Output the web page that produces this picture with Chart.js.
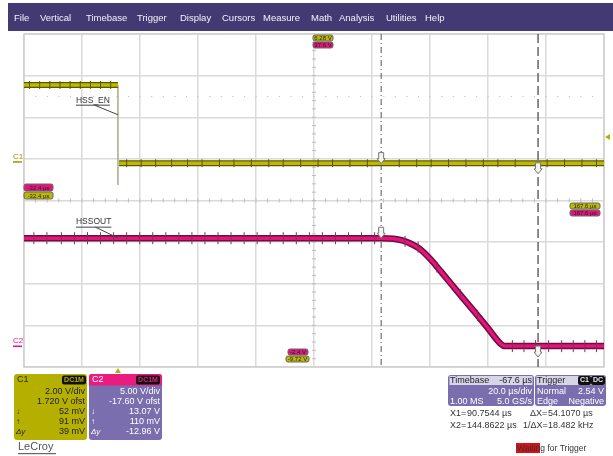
<!DOCTYPE html>
<html lang="en">
<head>
<meta charset="UTF-8" />
<title>HSS_EN / HSSOUT capture</title>
<script src="https://cdn.jsdelivr.net/npm/chart.js"></script>
<style>
  html, body { margin: 0; padding: 0; background: #fff; }
  #wrap { position: relative; width: 613px; height: 456px; }
</style>
</head>
<body>
<div id="wrap"><canvas id="scope"></canvas></div>
<script>
// ---- acquisition settings (µs / V) ----
const timeLeft = -32.4, timeRight = 167.6, usPerDiv = 20;
const c1VoltsPerDiv = 2.0, c1Offset = 1.72;
const c2VoltsPerDiv = 5.0, c2Offset = -17.6;
const cursorX1 = 90.7544, cursorX2 = 144.8622;

// ---- C1 : HSS_EN ----
const c1HighTime = [-32.4, 0.0];
const c1HighVolts = [3.83, 3.83];
const c1EdgeTime = [0.0, 0.0];
const c1EdgeVolts = [3.83, -0.98];
const c1LowTime = [0.4, 167.6];
const c1LowVolts = [0.07, 0.07];
const c1HighSpikes = [-30.5, -27, -23.5, -20, -16.5, -13, -9.5, -6, -2.5];
const c1LowSpikes = [3, 8, 13, 18.5, 24, 29, 35, 40, 46, 52, 57, 63, 69, 74, 80, 86, 97, 103, 108, 114, 120, 126, 131, 137, 148, 154, 160, 165];

// ---- C2 : HSSOUT ----
const c2Time = [-32.4, 90.8, 95.0, 98.0, 101.0, 104.0, 107.9, 111.4, 117.1, 122.9, 127.5, 131.8, 133.4, 167.6];
const c2Volts = [13.07, 13.07, 13.0, 12.8, 12.4, 11.8, 10.5, 9.05, 6.65, 4.25, 2.3, 0.45, 0.11, 0.11];
const c2HighSpikes = [-29, -24.5, -19.5, -15, -10.5, -6, -1.5, 3, 7.5, 12, 16.5, 21, 25.5, 30, 34.5, 39, 43.5, 48, 52.5, 57, 61.5, 66, 70.5, 75, 79.5, 84, 88.5];
const c2RampSpikeTime = [99, 103.5, 110, 118, 124];
const c2RampSpikeVolts = [12.7, 12.0, 9.6, 6.3, 3.8];
const c2LowSpikes = [136, 140, 144, 148.5, 153, 157, 161, 165];

const C1_COL = '#bdb800', C1_EDGE = '#5a5800';
const C2_COL = '#e2157b', C2_EDGE = '#6b0f3d';
const PANEL = '#7a6eaf';
const FONT = '"Liberation Sans", Arial, sans-serif';

const pts = (xs, ys) => xs.map((x, i) => ({ x: x, y: ys[i] }));
const flat = (xs, v) => xs.map(x => ({ x: x, y: v }));

function trace(label, data, axis, color, width, order) {
  return { label, data, yAxisID: axis, borderColor: color, borderWidth: width,
           pointRadius: 0, fill: false, order, cubicInterpolationMode: 'monotone' };
}
function spikes(label, data, axis, color, len) {
  return { type: 'scatter', label, data, yAxisID: axis, pointStyle: 'line', rotation: 90,
           pointRadius: len, borderColor: color, borderWidth: 1, showLine: false, order: 0 };
}

function rrect(ctx, x, y, w, h, r, fill, stroke) {
  ctx.beginPath();
  ctx.roundRect(x, y, w, h, r);
  if (fill) { ctx.fillStyle = fill; ctx.fill(); }
  if (stroke) { ctx.strokeStyle = stroke; ctx.lineWidth = 1; ctx.stroke(); }
}
function txt(ctx, s, x, y, size, color, align, weight) {
  ctx.font = (weight || '') + ' ' + size + 'px ' + FONT;
  ctx.fillStyle = color;
  ctx.textAlign = align || 'left';
  ctx.textBaseline = 'middle';
  ctx.fillText(s, x, y);
}
function tag(ctx, x, y, w, h, fill, s) {
  rrect(ctx, x, y, w, h, 2, fill, '#666');
  txt(ctx, s, x + w / 2, y + h / 2 + 0.5, 6, '#222', 'center');
}
function cursorMark(ctx, x, y) {
  ctx.beginPath();
  ctx.moveTo(x - 2.5, y - 9); ctx.lineTo(x + 2.5, y - 9); ctx.lineTo(x + 2.5, y - 3);
  ctx.lineTo(x + 4, y - 3); ctx.lineTo(x, y + 2); ctx.lineTo(x - 4, y - 3);
  ctx.lineTo(x - 2.5, y - 3); ctx.closePath();
  ctx.fillStyle = '#f4f4f4'; ctx.fill();
  ctx.strokeStyle = '#777'; ctx.lineWidth = 1; ctx.stroke();
}

const scopeDecor = {
  id: 'scopeDecor',
  beforeDraw(chart) {
    const ctx = chart.ctx;
    ctx.save();
    ctx.fillStyle = '#fff';
    ctx.fillRect(0, 0, chart.width, chart.height);
    // menu bar
    ctx.fillStyle = '#433a74';
    ctx.fillRect(8, 3, 605, 28);
    const menu = [['File', 14], ['Vertical', 40], ['Timebase', 86], ['Trigger', 137], ['Display', 180],
                  ['Cursors', 222], ['Measure', 263], ['Math', 311], ['Analysis', 339], ['Utilities', 386], ['Help', 425]];
    menu.forEach(m => txt(ctx, m[0], m[1], 18, 9.5, '#f2f2f8'));
    ctx.restore();
  },
  beforeDatasetsDraw(chart) {
    const ctx = chart.ctx, a = chart.chartArea, xs = chart.scales.x;
    const divW = (a.right - a.left) / 10, divH = (a.bottom - a.top) / 8;
    ctx.save();
    // frame
    ctx.strokeStyle = '#cfcfcf'; ctx.lineWidth = 1.5;
    ctx.strokeRect(a.left, a.top, a.right - a.left, a.bottom - a.top);
    // centre axes with minor ticks
    const cx = a.left + 5 * divW, cy = a.top + 4 * divH;
    ctx.strokeStyle = '#bdbdbd'; ctx.lineWidth = 1;
    for (let i = 1; i < 40; i++) {
      const y = a.top + i * divH / 5;
      ctx.beginPath(); ctx.moveTo(cx - 2, y); ctx.lineTo(cx + 2, y); ctx.stroke();
    }
    for (let i = 1; i < 50; i++) {
      const x = a.left + i * divW / 5;
      ctx.beginPath(); ctx.moveTo(x, cy - 2); ctx.lineTo(x, cy + 2); ctx.stroke();
    }
    // dotted row in the upper half
    ctx.fillStyle = '#c4c4c4';
    const dy = a.top + 1.5 * divH;
    for (let i = 1; i < 50; i++) ctx.fillRect(a.left + i * divW / 5 - 0.5, dy - 0.5, 1.2, 1.2);
    // cursors
    ctx.strokeStyle = '#555'; ctx.lineWidth = 1;
    ctx.setLineDash([6, 3, 1, 3]);
    let x1 = xs.getPixelForValue(cursorX1);
    ctx.beginPath(); ctx.moveTo(x1, a.top); ctx.lineTo(x1, a.bottom); ctx.stroke();
    ctx.setLineDash([9, 4]); ctx.lineWidth = 1.5; ctx.strokeStyle = '#666';
    let x2 = xs.getPixelForValue(cursorX2);
    ctx.beginPath(); ctx.moveTo(x2, a.top); ctx.lineTo(x2, a.bottom); ctx.stroke();
    ctx.restore();
  },
  afterDatasetsDraw(chart) {
    const ctx = chart.ctx, a = chart.chartArea, xs = chart.scales.x;
    const y1 = chart.scales.yC1, y2 = chart.scales.yC2;
    ctx.save();
    // cursor markers on the traces
    cursorMark(ctx, xs.getPixelForValue(cursorX1), y1.getPixelForValue(0.052) - 2);
    cursorMark(ctx, xs.getPixelForValue(cursorX1), y2.getPixelForValue(13.07) - 2);
    cursorMark(ctx, xs.getPixelForValue(cursorX2), y1.getPixelForValue(0.091) + 9);
    cursorMark(ctx, xs.getPixelForValue(cursorX2), y2.getPixelForValue(0.11) + 9);

    // trace labels with leaders
    ctx.strokeStyle = '#444'; ctx.lineWidth = 1;
    const lab = (s, t, v, ys, tEnd, vEnd) => {
      const lx = xs.getPixelForValue(t), ly = ys.getPixelForValue(v);
      txt(ctx, s, lx, ly, 8.5, '#333');
      const w = ctx.measureText(s).width;
      ctx.beginPath(); ctx.moveTo(lx, ly + 5); ctx.lineTo(lx + w, ly + 5); ctx.stroke();
      ctx.beginPath(); ctx.moveTo(lx + w * 0.55, ly + 5);
      ctx.lineTo(xs.getPixelForValue(tEnd), ys.getPixelForValue(vEnd)); ctx.stroke();
    };
    lab('HSS_EN', -14.5, 3.1, y1, 0, 2.4);
    lab('HSSOUT', -14.5, 15.0, y2, 0, 13.1);

    // scale limit tags
    tag(ctx, 313, 35, 20, 6, C1_COL, '6.28 V');
    tag(ctx, 313, 42, 20, 6, C2_COL, '37.6 V');
    tag(ctx, a.left, 184, 29, 7, C2_COL, '-32.4 µs');
    tag(ctx, a.left, 192, 29, 7, C1_COL, '-32.4 µs');
    tag(ctx, 570, 203, 30, 6, C1_COL, '167.6 µs');
    tag(ctx, 570, 210, 30, 6, C2_COL, '167.6 µs');
    tag(ctx, 288, 349, 20, 6, C2_COL, '-2.4 V');
    tag(ctx, 286, 356, 23, 6, C1_COL, '-9.72 V');

    // channel ground markers
    txt(ctx, 'C1', 13, y1.getPixelForValue(0) - 8, 8, '#9a9600');
    ctx.fillStyle = '#9a9600'; ctx.fillRect(13, y1.getPixelForValue(0) - 3.5, 9, 1.5);
    txt(ctx, 'C2', 13, y2.getPixelForValue(0) - 6, 8, C2_COL);
    ctx.fillStyle = C2_COL; ctx.fillRect(13, y2.getPixelForValue(0) - 1.5, 9, 1.5);

    // trigger level and trigger position arrows
    ctx.fillStyle = '#b5b000';
    ctx.beginPath(); ctx.moveTo(a.right + 1, 137); ctx.lineTo(a.right + 6, 134); ctx.lineTo(a.right + 6, 140); ctx.fill();
    const tx = xs.getPixelForValue(0);
    ctx.beginPath(); ctx.moveTo(tx, a.bottom + 1); ctx.lineTo(tx - 3, a.bottom + 6); ctx.lineTo(tx + 3, a.bottom + 6); ctx.fill();

    // ---- channel panels ----
    rrect(ctx, 14, 374, 73, 66, 3, '#b5b000');
    txt(ctx, 'C1', 17, 380, 9, '#2a2a00');
    rrect(ctx, 62, 375.5, 24, 9, 2, '#111');
    txt(ctx, 'DC1M', 74, 380.5, 7, '#b5b000', 'center', 'bold');
    const c1Rows = ['2.00 V/div', '1.720 V ofst', '52 mV', '91 mV', '39 mV'];
    c1Rows.forEach((s, i) => txt(ctx, s, 85, 392 + i * 10, 9, '#222', 'right'));
    txt(ctx, '↓', 16, 412, 8, '#222'); txt(ctx, '↑', 16, 422, 8, '#222');
    txt(ctx, 'Δy', 16, 432, 8, '#222', 'left', 'italic');

    rrect(ctx, 89, 374, 73, 66, 3, PANEL);
    ctx.save(); ctx.beginPath(); ctx.roundRect(89, 374, 73, 66, 3); ctx.clip();
    ctx.fillStyle = '#ec1b80'; ctx.fillRect(89, 374, 73, 11.5); ctx.restore();
    txt(ctx, 'C2', 92, 380, 9, '#fff');
    rrect(ctx, 136, 375.5, 24, 9, 2, '#111');
    txt(ctx, 'DC1M', 148, 380.5, 7, '#ec1b80', 'center', 'bold');
    const c2Rows = ['5.00 V/div', '-17.60 V ofst', '13.07 V', '110 mV', '-12.96 V'];
    c2Rows.forEach((s, i) => txt(ctx, s, 160, 392 + i * 10, 9, '#fff', 'right'));
    txt(ctx, '↓', 91, 412, 8, '#fff'); txt(ctx, '↑', 91, 422, 8, '#fff');
    txt(ctx, 'Δy', 91, 432, 8, '#fff', 'left', 'italic');

    // ---- timebase / trigger panels ----
    rrect(ctx, 448, 375, 86, 31, 3, PANEL);
    ctx.fillStyle = '#d7d5e8'; ctx.fillRect(449.5, 376, 83, 9);
    txt(ctx, 'Timebase', 450, 380.5, 9, '#222');
    txt(ctx, '-67.6 µs', 532, 380.5, 9, '#222', 'right');
    txt(ctx, '20.0 µs/div', 532, 392, 9, '#fff', 'right');
    txt(ctx, '1.00 MS', 450, 401.5, 9, '#fff');
    txt(ctx, '5.0 GS/s', 532, 401.5, 9, '#fff', 'right');

    rrect(ctx, 535, 375, 71, 31, 3, PANEL);
    ctx.fillStyle = '#d7d5e8'; ctx.fillRect(536.5, 376, 68, 9);
    txt(ctx, 'Trigger', 537, 380.5, 9, '#222');
    rrect(ctx, 578, 376, 13, 9, 2, '#111'); txt(ctx, 'C1', 584.5, 380.5, 7, '#e8e8e8', 'center', 'bold');
    rrect(ctx, 591, 376, 14, 9, 2, '#111'); txt(ctx, 'DC', 598, 380.5, 7, '#e8e8e8', 'center', 'bold');
    txt(ctx, 'Normal', 537, 392, 9, '#fff'); txt(ctx, '2.54 V', 604, 392, 9, '#fff', 'right');
    txt(ctx, 'Edge', 537, 401.5, 9, '#fff'); txt(ctx, 'Negative', 604, 401.5, 9, '#fff', 'right');

    // cursor readouts
    txt(ctx, 'X1=', 450, 414, 9, '#333'); txt(ctx, '90.7544 µs', 467, 414, 9, '#333');
    txt(ctx, 'ΔX=', 530, 414, 9, '#333'); txt(ctx, '54.1070 µs', 548, 414, 9, '#333');
    txt(ctx, 'X2=', 450, 425.5, 9, '#333'); txt(ctx, '144.8622 µs', 467, 425.5, 9, '#333');
    txt(ctx, '1/ΔX=', 523, 425.5, 9, '#333'); txt(ctx, '18.482 kHz', 548, 425.5, 9, '#333');

    // status line and brand
    ctx.fillStyle = '#d3121c'; ctx.fillRect(516, 443, 24, 10);
    txt(ctx, 'Waiting for Trigger', 517, 448.5, 8.5, '#333');
    txt(ctx, 'LeCroy', 18, 447, 11, '#555');
    ctx.fillStyle = '#666'; ctx.fillRect(18, 453, 38, 1.2);
    ctx.restore();
  }
};

const c1HighLevel = c1HighVolts[0], c1LowLevel = c1LowVolts[0];
const c2HighLevel = c2Volts[0], c2LowLevel = c2Volts[c2Volts.length - 1];

new Chart(document.getElementById('scope'), {
  type: 'line',
  data: {
    datasets: [
      spikes('C1 glitches hi', flat(c1HighSpikes, c1HighLevel), 'yC1', C1_EDGE, 4),
      spikes('C1 glitches lo', flat(c1LowSpikes, c1LowLevel), 'yC1', C1_EDGE, 4),
      spikes('C2 glitches hi', flat(c2HighSpikes, c2HighLevel), 'yC2', '#8a2a58', 6),
      spikes('C2 glitches ramp', pts(c2RampSpikeTime, c2RampSpikeVolts), 'yC2', '#8a2a58', 5.5),
      spikes('C2 glitches lo', flat(c2LowSpikes, c2LowLevel), 'yC2', '#8a2a58', 6),
      trace('C1 edge', pts(c1EdgeTime, c1EdgeVolts), 'yC1', '#a9a88c', 1.5, 5),
      trace('C1 hi', pts(c1HighTime, c1HighVolts), 'yC1', C1_COL, 3.5, 1),
      trace('C1 hi edge', pts(c1HighTime, c1HighVolts), 'yC1', C1_EDGE, 6, 2),
      trace('C1 lo', pts(c1LowTime, c1LowVolts), 'yC1', C1_COL, 3.5, 1),
      trace('C1 lo edge', pts(c1LowTime, c1LowVolts), 'yC1', C1_EDGE, 6, 2),
      trace('C2', pts(c2Time, c2Volts), 'yC2', C2_COL, 3.5, 1),
      trace('C2 edge', pts(c2Time, c2Volts), 'yC2', C2_EDGE, 6.5, 2)
    ]
  },
  options: {
    responsive: true,
    maintainAspectRatio: false,
    animation: false,
    layout: { padding: { left: 24, right: 9, top: 34, bottom: 89 } },
    plugins: { legend: { display: false }, tooltip: { enabled: false } },
    scales: {
      x: {
        type: 'linear', min: timeLeft, max: timeRight,
        afterBuildTicks: s => { s.ticks = Array.from({ length: 11 }, (_, k) => ({ value: timeLeft + k * usPerDiv })); },
        ticks: { display: false },
        grid: { color: '#dadada', lineWidth: 1.5, drawTicks: false, tickLength: 0 },
        border: { display: false }
      },
      yC1: {
        type: 'linear', position: 'left',
        min: -c1Offset - 4 * c1VoltsPerDiv, max: -c1Offset + 4 * c1VoltsPerDiv,
        afterBuildTicks: s => { s.ticks = Array.from({ length: 9 }, (_, k) => ({ value: s.min + k * c1VoltsPerDiv })); },
        ticks: { display: false },
        grid: { color: '#dadada', lineWidth: 1.5, drawTicks: false, tickLength: 0 },
        border: { display: false }
      },
      yC2: {
        type: 'linear', display: false,
        min: -c2Offset - 4 * c2VoltsPerDiv, max: -c2Offset + 4 * c2VoltsPerDiv
      }
    }
  },
  plugins: [scopeDecor]
});
</script>
</body>
</html>
